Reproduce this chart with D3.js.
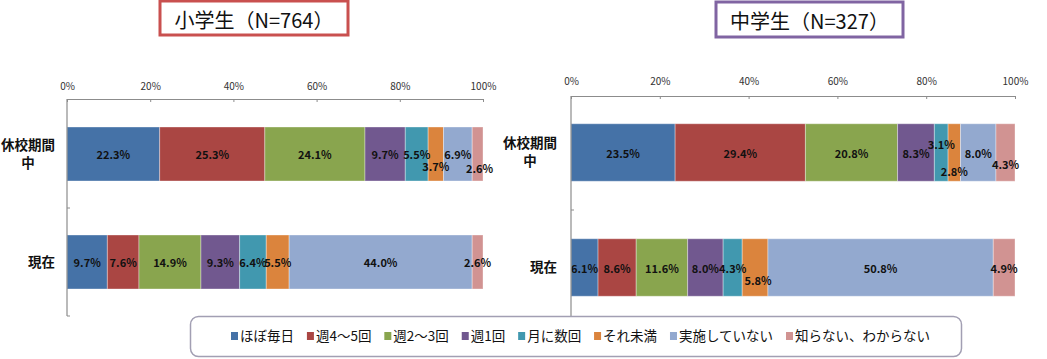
<!DOCTYPE html>
<html><head><meta charset="utf-8">
<script src="https://cdn.jsdelivr.net/npm/d3@7"></script>
<style>
html,body{margin:0;padding:0;background:#fff;}
svg{display:block;}
</style></head>
<body>
<svg id="chart" width="1047" height="359"></svg>
<script>
// ---- data ----
const categories = ["休校期間中", "現在"];
const seriesNames = ["ほぼ毎日", "週4～5回", "週2～3回", "週1回", "月に数回", "それ未満", "実施していない", "知らない、わからない"];
const colors = ["#4572A7", "#AA4643", "#89A54E", "#71588F", "#4198AF", "#DB843D", "#93A9CF", "#D19392"];
const elemHoliday = [22.3, 25.3, 24.1, 9.7, 5.5, 3.7, 6.9, 2.6];
const elemNow     = [9.7, 7.6, 14.9, 9.3, 6.4, 5.5, 44.0, 2.6];
const juniorHoliday = [23.5, 29.4, 20.8, 8.3, 3.1, 2.8, 8.0, 4.3];
const juniorNow     = [6.1, 8.6, 11.6, 8.0, 4.3, 5.8, 50.8, 4.9];
const tickValues = [0, 20, 40, 60, 80, 100];
const tickLabels = ["0%", "20%", "40%", "60%", "80%", "100%"];
const titles = ["小学生（N=764）", "中学生（N=327）"];

// label nudges (style only): [row][series] -> [dx, dy]
const nudgeElem = [{5: [0, 12], 7: [2, 14]}, {}];
const nudgeJunior = [{4: [0, -9], 5: [0, 18], 7: [0, 11]}, {5: [3, 12], 4: [0, 0]}];

const svg = d3.select("#chart");
const FONT = "'Noto Sans CJK JP', 'Noto Sans', sans-serif";

const panels = [
  {title: titles[0], border: "#C9504F", box: [160, 1, 188, 34], rows: [elemHoliday, elemNow],
   x0: 67, x1: 483, y0: 100, y1: 316, axisTop: 99, tickY: 86, labelRight: 55, nudge: nudgeElem},
  {title: titles[1], border: "#8064A2", box: [716, 2, 187, 35], rows: [juniorHoliday, juniorNow],
   x0: 571, x1: 1015, y0: 95, y1: 325, axisTop: 96, tickY: 81, labelRight: 557, nudge: nudgeJunior}
];

panels.forEach(p => {
  const g = svg.append("g");
  // title box
  g.append("rect").attr("x", p.box[0]).attr("y", p.box[1]).attr("width", p.box[2]).attr("height", p.box[3])
    .attr("fill", "#fff").attr("stroke", p.border).attr("stroke-width", 3);
  g.append("text").attr("x", p.box[0] + p.box[2] / 2).attr("y", p.box[1] + p.box[3] / 2 + 1)
    .attr("text-anchor", "middle").attr("dominant-baseline", "central")
    .style("font-family", FONT).style("font-size", "20px").attr("fill", "#111").text(p.title);

  const x = d3.scaleLinear().domain([0, 100]).range([p.x0, p.x1]);
  const y = d3.scaleBand().domain(categories).range([p.y0, p.y1]).paddingInner(0.5).paddingOuter(0.25);

  // bars
  p.rows.forEach((vals, ri) => {
    const total = d3.sum(vals);
    const cum = d3.cumsum(vals);
    const cat = categories[ri];
    vals.forEach((v, si) => {
      const a = (cum[si] - v) / total * 100, b = cum[si] / total * 100;
      g.append("rect").attr("x", x(a)).attr("y", y(cat)).attr("width", x(b) - x(a)).attr("height", y.bandwidth())
        .attr("fill", colors[si]).attr("stroke", "#fff").attr("stroke-opacity", 0.35).attr("stroke-width", 1);
    });
    vals.forEach((v, si) => {
      const a = (cum[si] - v) / total * 100, b = cum[si] / total * 100;
      const nd = (p.nudge[ri] && p.nudge[ri][si]) || [0, 0];
      g.append("text").attr("x", (x(a) + x(b)) / 2 + nd[0]).attr("y", y(cat) + y.bandwidth() / 2 + nd[1])
        .attr("text-anchor", "middle").attr("dominant-baseline", "central")
        .style("font-family", FONT).style("font-size", "11px").style("font-weight", "bold")
        .attr("fill", "#111").text(v.toFixed(1) + "%");
    });
  });

  // top axis
  const axisG = g.append("g").attr("transform", `translate(0,${p.axisTop})`)
    .call(d3.axisTop(x).tickValues(tickValues).tickFormat((d, i) => tickLabels[i]).tickSizeInner(-3).tickSizeOuter(0).tickPadding(8));
  axisG.select(".domain").attr("stroke", "#8c8c8c").attr("stroke-width", 1.2);
  axisG.selectAll(".tick line").attr("stroke", "#8c8c8c");
  axisG.selectAll(".tick text").style("font-family", FONT).style("font-size", "10px").attr("fill", "#333")
    .attr("y", p.tickY - p.axisTop).attr("dy", "0.35em");

  // left axis
  const yAx = g.append("g").attr("transform", `translate(${p.x0},0)`);
  yAx.append("line").attr("x1", 0).attr("x2", 0).attr("y1", p.axisTop).attr("y2", p.y1)
    .attr("stroke", "#8c8c8c").attr("stroke-width", 1.2);
  const step = y.step();
  [y(categories[0]) + y.bandwidth() / 2 + step / 2, p.y1].forEach(t => {
    yAx.append("line").attr("x1", 0).attr("x2", 3).attr("y1", t).attr("y2", t).attr("stroke", "#8c8c8c");
  });

  // category labels (wrap at 4 chars, lines centred in right-aligned block)
  categories.forEach(cat => {
    const lines = [];
    for (let i = 0; i < cat.length; i += 4) lines.push(cat.slice(i, i + 4));
    const t = g.append("text").style("font-family", FONT).style("font-size", "13.5px").style("font-weight", "bold")
      .attr("fill", "#111").attr("text-anchor", "middle");
    const lh = 18;
    const cy = y(cat) + y.bandwidth() / 2;
    lines.forEach((ln, li) => {
      t.append("tspan").attr("y", cy + (li - (lines.length - 1) / 2) * lh).attr("dy", "0.35em").text(ln);
    });
    const w = d3.max(t.selectAll("tspan").nodes(), n => n.getComputedTextLength());
    t.selectAll("tspan").attr("x", p.labelRight - w / 2);
  });
});

// legend
const lg = svg.append("g");
lg.append("rect").attr("x", 190.5).attr("y", 316.5).attr("width", 771).attr("height", 40).attr("rx", 8)
  .attr("fill", "#fff").attr("stroke", "#a29fb3").attr("stroke-width", 1.5);
const items = lg.append("g");
let cx = 0;
seriesNames.forEach((name, i) => {
  const it = items.append("g").attr("transform", `translate(${cx},0)`);
  it.append("rect").attr("x", 0).attr("y", -4).attr("width", 7).attr("height", 8).attr("fill", colors[i]);
  const t = it.append("text").attr("x", 9).attr("y", 0).attr("dy", "0.35em")
    .style("font-family", FONT).style("font-size", "13.5px").attr("fill", "#111").text(name);
  cx += 9 + t.node().getComputedTextLength() + 8;
});
const totalW = cx - 8;
items.attr("transform", `translate(${231},${336})`);
const scaleFix = (930 - 231) / totalW;
if (Math.abs(scaleFix - 1) > 0.02) {
  const extra = (930 - 231 - totalW) / (seriesNames.length - 1);
  let pos = 0;
  items.selectAll(":scope > g").each(function () {
    const gg = d3.select(this);
    gg.attr("transform", `translate(${pos},0)`);
    pos += 9 + gg.select("text").node().getComputedTextLength() + 8 + extra;
  });
}
</script>
</body></html>
